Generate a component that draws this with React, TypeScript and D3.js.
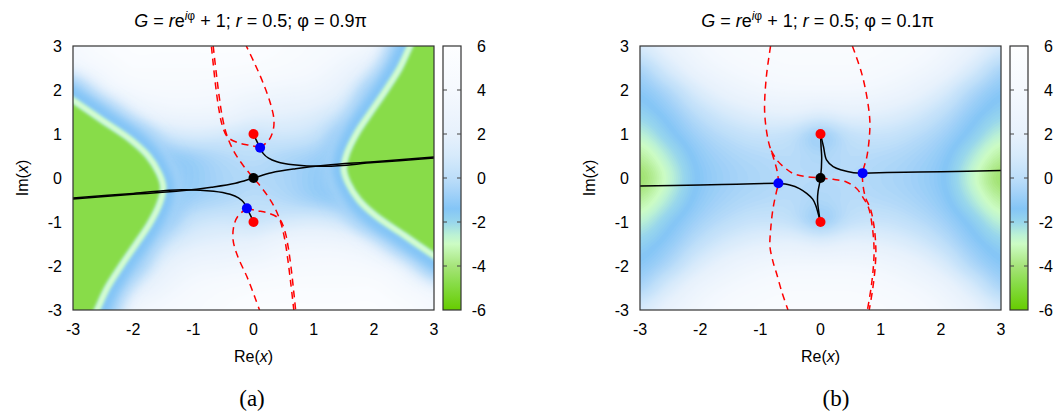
import React from 'react';
import * as d3 from 'd3';

type Pt = [number, number];

const W = 1058;
const H = 416;
const FONT = '"Liberation Sans", Arial, Helvetica, sans-serif';

// axes
const axisTicks = [-3, -2, -1, 0, 1, 2, 3];
const cbTicks = [-6, -4, -2, 0, 2, 4, 6];

// heatmap grid (rows from Im=3 down to Im=-3)
const gridX = [-3, -2.5, -2, -1.5, -1, -0.5, 0, 0.5, 1, 1.5, 2, 2.5, 3];
const gridY = [3, 2.5, 2, 1.5, 1, 0.5, 0, -0.5, -1, -1.5, -2, -2.5, -3];

// colour map of the colour box
const cmapValues = [-6, -4.8, -4, -3, -2.6, -2, -1.4, -0.6, 0, 1, 2, 4, 6];
const cmapColors = ['#66cc00', '#88dc48', '#a6e47a', '#ccfcc4', '#bcf2d4', '#98d6ec', '#84c5f6', '#a6d3f8', '#bddef9', '#d6eafb', '#e7f1fc', '#f5f9fe', '#fdfeff'];

// panel (a) background field, the green arms are drawn on top of it
const fieldA = [
  [4, 5, 5.5, 5.5, 5.5, 5.5, 5.5, 5, 4.5, 4, 3, -1.2, -1.4],
  [3, 4, 5, 5, 5, 5, 4.8, 4.5, 4, 3, 1.3, -1.4, -1.4],
  [-0.8, 2.5, 3.8, 4.2, 4.2, 4, 3.6, 3.3, 3, 1.8, -0.8, -1.4, -1.4],
  [-1.4, -0.6, 2, 3, 3.2, 3, 2.2, 2, 1.6, 0.5, -1.4, -1.4, -1.4],
  [-1.4, -1.4, -1.0, 0.6, 1.2, 1, 0.6, 0.8, 0.4, -1.0, -1.4, -1.4, -1.4],
  [-1.4, -1.4, -1.4, -1.2, -0.7, -0.2, 0, -0.3, -0.7, -1.4, -1.4, -1.4, -1.4],
  [-1.4, -1.4, -1.4, -1.4, -1.0, -0.5, -0.3, -0.5, -1.0, -1.4, -1.4, -1.4, -1.4],
  [-1.4, -1.4, -1.4, -1.4, -0.7, -0.3, 0, -0.2, -0.7, -1.2, -1.4, -1.4, -1.4],
  [-1.4, -1.4, -1.4, -1.0, 0.4, 0.8, 0.6, 1, 1.2, 0.6, -1.0, -1.4, -1.4],
  [-1.4, -1.4, -1.4, 0.5, 1.6, 2, 2.2, 3, 3.2, 3, 2, -0.6, -1.4],
  [-1.4, -1.4, -0.8, 1.8, 3, 3.3, 3.6, 4, 4.2, 4.2, 3.8, 2.5, -0.8],
  [-1.4, -1.4, 1.3, 3, 4, 4.5, 4.8, 5, 5, 5, 5, 4, 3],
  [-1.4, -1.2, 3, 4, 4.5, 5, 5.5, 5.5, 5.5, 5.5, 5.5, 5, 4],
];

// ridge lines (light green crest) of the two green arms in panel (a)
const ridgeLeftA: Pt[] = [[-3.3, 2.05], [-3, 1.77], [-2.5, 1.3], [-2.03, 0.86], [-1.75, 0.5], [-1.57, 0.11], [-1.5, -0.2], [-1.55, -0.55], [-1.72, -1.03], [-1.95, -1.5], [-2.2, -2.0], [-2.43, -2.5], [-2.6, -3], [-2.7, -3.3]];
const ridgeRightA: Pt[] = [[3.3, -2.05], [3, -1.77], [2.5, -1.3], [2.03, -0.86], [1.75, -0.5], [1.57, -0.11], [1.5, 0.2], [1.55, 0.55], [1.72, 1.03], [1.95, 1.5], [2.2, 2.0], [2.43, 2.5], [2.6, 3], [2.7, 3.3]];
const outerLeftA: Pt[] = [[-3.6, -3.6], [-3.6, 2.4]];
const outerRightA: Pt[] = [[3.6, 3.6], [3.6, -2.4]];

const fieldB = [
  [1.0, 2.4, 3.6, 4.3, 4.7, 5.0, 5.0, 5.0, 4.7, 4.3, 3.6, 2.4, 1.0],
  [-0.4, 1.2, 2.8, 3.7, 4.2, 4.5, 4.5, 4.5, 4.2, 3.7, 2.8, 1.2, -0.4],
  [-1.2, -0.2, 1.4, 2.6, 3.3, 3.6, 3.6, 3.6, 3.3, 2.6, 1.4, -0.2, -1.2],
  [-1.8, -1.0, 0.2, 1.2, 1.8, 2.0, 1.6, 2.0, 1.8, 1.2, 0.2, -1.0, -1.8],
  [-2.6, -1.6, -0.6, 0.1, 0.5, 0.3, -0.7, 0.3, 0.5, 0.1, -0.6, -1.6, -2.6],
  [-3.5, -2.3, -1.1, -0.5, -0.2, -0.1, -0.4, -0.1, -0.2, -0.5, -1.1, -2.3, -3.5],
  [-4.2, -2.7, -1.3, -0.7, -0.4, -0.2, -0.2, -0.2, -0.4, -0.7, -1.3, -2.7, -4.2],
  [-3.5, -2.3, -1.1, -0.5, -0.2, -0.1, -0.4, -0.1, -0.2, -0.5, -1.1, -2.3, -3.5],
  [-2.6, -1.6, -0.6, 0.1, 0.5, 0.3, -0.7, 0.3, 0.5, 0.1, -0.6, -1.6, -2.6],
  [-1.8, -1.0, 0.2, 1.2, 1.8, 2.0, 1.6, 2.0, 1.8, 1.2, 0.2, -1.0, -1.8],
  [-1.2, -0.2, 1.4, 2.6, 3.3, 3.6, 3.6, 3.6, 3.3, 2.6, 1.4, -0.2, -1.2],
  [-0.4, 1.2, 2.8, 3.7, 4.2, 4.5, 4.5, 4.5, 4.2, 3.7, 2.8, 1.2, -0.4],
  [1.0, 2.4, 3.6, 4.3, 4.7, 5.0, 5.0, 5.0, 4.7, 4.3, 3.6, 2.4, 1.0],
];

// panel (a): phi = 0.9 pi
const blackA: Pt[][] = [
  [[-3, -0.48], [-2, -0.37], [-1.2, -0.29], [-0.7, -0.21], [-0.3, -0.12], [0, 0], [0.3, 0.12], [0.7, 0.21], [1.2, 0.29], [2, 0.37], [3, 0.48]],
  [[0.11, 0.69], [0.16, 0.56], [0.25, 0.45], [0.39, 0.37], [0.66, 0.3], [1.2, 0.265], [2, 0.35], [3, 0.455]],
  [[-0.11, -0.69], [-0.16, -0.56], [-0.25, -0.45], [-0.39, -0.37], [-0.66, -0.3], [-1.2, -0.265], [-2, -0.35], [-3, -0.455]],
  [[0, 1], [0.05, 0.85], [0.11, 0.69]],
  [[0, -1], [-0.05, -0.85], [-0.11, -0.69]],
];
const dashedA: Pt[][] = [
  [[-0.67, 3], [-0.62, 2.4], [-0.57, 1.85], [-0.52, 1.4], [-0.45, 1.0], [-0.34, 0.64], [-0.18, 0.3], [0, 0], [0.18, -0.3], [0.34, -0.64], [0.45, -1.0], [0.52, -1.4], [0.57, -1.85], [0.62, -2.4], [0.67, -3]],
  [[0.11, 0.69], [-0.05, 0.74], [-0.25, 0.8], [-0.43, 0.93], [-0.52, 1.2], [-0.58, 1.6], [-0.63, 2.1], [-0.67, 2.6], [-0.7, 3]],
  [[0.11, 0.69], [0.25, 0.85], [0.32, 1.05], [0.34, 1.32], [0.28, 1.7], [0.16, 2.16], [0.02, 2.6], [-0.12, 3]],
  [[-0.11, -0.69], [0.05, -0.74], [0.25, -0.8], [0.43, -0.93], [0.52, -1.2], [0.58, -1.6], [0.63, -2.1], [0.67, -2.6], [0.7, -3]],
  [[-0.11, -0.69], [-0.25, -0.85], [-0.32, -1.05], [-0.34, -1.4], [-0.26, -1.79], [-0.11, -2.24], [0.02, -2.7], [0.1, -3]],
];
const redDotsA: Pt[] = [[0, 1], [0, -1]];
const blueDotsA: Pt[] = [[0.11, 0.69], [-0.11, -0.69]];
const blackDotsA: Pt[] = [[0, 0]];

// panel (b): phi = 0.1 pi
const blackB: Pt[][] = [
  [[-3, -0.18], [-2, -0.16], [-1.4, -0.14], [-0.7, -0.12]],
  [[0.7, 0.11], [1.4, 0.13], [2, 0.14], [3, 0.17]],
  [[-0.7, -0.12], [-0.51, -0.16], [-0.35, -0.24], [-0.23, -0.35], [-0.13, -0.48], [-0.08, -0.62], [-0.04, -0.8], [0, -1]],
  [[0.7, 0.11], [0.55, 0.12], [0.35, 0.18], [0.21, 0.26], [0.1, 0.41], [0.05, 0.71], [0, 1]],
  [[0, 1], [0.01, 0.7], [0.02, 0.45], [0, 0], [-0.04, -0.3], [-0.05, -0.5], [-0.02, -0.85], [0, -1]],
];
const dashedB: Pt[][] = [
  [[-0.82, 0.62], [-0.72, 0.4], [-0.6, 0.24], [-0.45, 0.1], [-0.23, 0.03], [0, 0], [0.21, -0.03], [0.43, -0.09], [0.6, -0.24], [0.71, -0.45], [0.8, -0.68], [0.86, -1.1], [0.89, -1.6], [0.88, -2.0], [0.84, -2.5], [0.78, -3]],
  [[-0.83, 3], [-0.9, 2.3], [-0.93, 1.6], [-0.91, 1.2], [-0.86, 0.8], [-0.78, 0.45], [-0.72, 0.15], [-0.7, -0.12], [-0.73, -0.3], [-0.79, -0.7], [-0.83, -1.2], [-0.84, -1.56], [-0.79, -1.9], [-0.73, -2.17], [-0.64, -2.6], [-0.54, -3]],
  [[0.53, 3], [0.68, 2.4], [0.77, 1.85], [0.82, 1.3], [0.81, 0.9], [0.77, 0.48], [0.7, 0.11], [0.71, -0.2], [0.75, -0.45], [0.83, -0.7], [0.89, -1.1], [0.92, -1.6], [0.91, -2.0], [0.87, -2.5], [0.81, -3]],
];
const redDotsB: Pt[] = [[0, 1], [0, -1]];
const blueDotsB: Pt[] = [[-0.7, -0.12], [0.7, 0.11]];
const blackDotsB: Pt[] = [[0, 0]];

const color = d3.scaleLinear<string>().domain(cmapValues).range(cmapColors).clamp(true);

// smooth display of the read grid (Catmull-Rom, like curveCatmullRom for lines)
function refine(field: number[][], k: number): number[][] {
  const ny = field.length;
  const nx = field[0].length;
  const get = (j: number, i: number) => field[Math.max(0, Math.min(ny - 1, j))][Math.max(0, Math.min(nx - 1, i))];
  const cr = (p0: number, p1: number, p2: number, p3: number, t: number) =>
    0.5 * (2 * p1 + (-p0 + p2) * t + (2 * p0 - 5 * p1 + 4 * p2 - p3) * t * t + (-p0 + 3 * p1 - 3 * p2 + p3) * t * t * t);
  const out: number[][] = [];
  for (let J = 0; J <= (ny - 1) * k; J++) {
    let j = Math.floor(J / k);
    let tj = (J % k) / k;
    if (j >= ny - 1) { j = ny - 2; tj = 1; }
    const row: number[] = [];
    for (let I = 0; I <= (nx - 1) * k; I++) {
      let i = Math.floor(I / k);
      let ti = (I % k) / k;
      if (i >= nx - 1) { i = nx - 2; ti = 1; }
      const r = [-1, 0, 1, 2].map((m) => cr(get(j + m, i - 1), get(j + m, i), get(j + m, i + 1), get(j + m, i + 2), ti));
      let v = cr(r[0], r[1], r[2], r[3], tj);
      const c = [get(j, i), get(j, i + 1), get(j + 1, i), get(j + 1, i + 1)];
      v = Math.max(Math.min(...c), Math.min(Math.max(...c), v));
      row.push(v);
    }
    out.push(row);
  }
  return out;
}

const PLOT_W = 361;
const TOP = 46;
const BOTTOM = 310;

function Panel(props: {
  id: string;
  left: number;
  field: number[][];
  arms: { ridge: Pt[]; outer: Pt[] }[];
  black: Pt[][];
  dashed: Pt[][];
  red: Pt[];
  blue: Pt[];
  dark: Pt[];
  phi: string;
  tag: string;
  tagX: number;
}) {
  const { id, left, field, arms, black, dashed, red, blue, dark, phi, tag, tagX } = props;
  const x0 = left;
  const x1 = left + PLOT_W;
  const x = d3.scaleLinear().domain([-3, 3]).range([x0, x1]);
  const y = d3.scaleLinear().domain([-3, 3]).range([BOTTOM, TOP]);

  // heatmap through d3.contours on the smoothed grid
  const fine = refine(field, 4);
  const ny = fine.length;
  const nx = fine[0].length;
  const gx = d3.scaleLinear().domain([0.5, nx - 0.5]).range([gridX[0], gridX[gridX.length - 1]]);
  const gy = d3.scaleLinear().domain([0.5, ny - 0.5]).range([gridY[0], gridY[gridY.length - 1]]);
  const proj = d3.geoTransform({
    point: function (px: number, py: number) {
      (this as any).stream.point(x(gx(px)), y(gy(py)));
    },
  });
  const path = d3.geoPath(proj);
  const thresholds = d3.range(-4.8, 6.001, 0.1);
  const bands = d3.contours().size([nx, ny]).thresholds(thresholds)(fine.flat());

  const line = d3
    .line<Pt>()
    .x((d) => x(d[0]))
    .y((d) => y(d[1]))
    .curve(d3.curveCatmullRom.alpha(0.5));

  // colour box
  const cb0 = x1 + 9;
  const cb1 = cb0 + 18;
  const cy = d3.scaleLinear().domain([-6, 6]).range([BOTTOM, TOP]);

  const cx = (x0 + x1) / 2;
  const region = { x: x0 - 30, y: TOP - 30, width: PLOT_W + 60, height: BOTTOM - TOP + 60 };

  return (
    <g>
      <defs>
        <clipPath id={`clip-${id}`}>
          <rect x={x0} y={TOP} width={PLOT_W} height={BOTTOM - TOP} />
        </clipPath>
        <linearGradient id={`grad-${id}`} x1="0" y1="1" x2="0" y2="0">
          {cmapValues.map((v, i) => (
            <stop key={i} offset={(v + 6) / 12} stopColor={cmapColors[i]} />
          ))}
        </linearGradient>
        <filter id={`wide-${id}`} filterUnits="userSpaceOnUse" {...region}>
          <feGaussianBlur stdDeviation={7} />
        </filter>
        <filter id={`glow-${id}`} filterUnits="userSpaceOnUse" {...region}>
          <feGaussianBlur stdDeviation={3} />
        </filter>
        <filter id={`soft-${id}`} filterUnits="userSpaceOnUse" {...region}>
          <feGaussianBlur stdDeviation={1.5} />
        </filter>
        <filter id={`edge-${id}`} filterUnits="userSpaceOnUse" {...region}>
          <feGaussianBlur stdDeviation={0.8} />
        </filter>
      </defs>

      {/* title */}
      <text x={cx - 3} y={27} textAnchor="middle" fontSize={18} fontFamily={FONT}>
        <tspan fontStyle="italic">G</tspan>
        {' = '}
        <tspan fontStyle="italic">r</tspan>
        {'e'}
        <tspan fontSize={12} dy={-7}>
          <tspan fontStyle="italic">i</tspan>
          {'φ'}
        </tspan>
        <tspan dy={7}>{' + 1; '}</tspan>
        <tspan fontStyle="italic">r</tspan>
        {' = 0.5; φ = ' + phi + 'π'}
      </text>

      {/* heatmap */}
      <g clipPath={`url(#clip-${id})`}>
        <rect x={x0} y={TOP} width={PLOT_W} height={BOTTOM - TOP} fill={color(-4.8)} />
        {bands.map((b, i) => (
          <path key={i} d={path(b as any) || ''} fill={color(b.value + 0.05)} />
        ))}
        {arms.map((a, i) => (
          <g key={'arm' + i}>
            <path d={line(a.ridge) || ''} fill="none" stroke={color(-0.6)} strokeWidth={40} filter={`url(#wide-${id})`} />
            <path d={line(a.ridge) || ''} fill="none" stroke={color(-1.4)} strokeWidth={24} filter={`url(#glow-${id})`} />
            <path
              d={(line(a.ridge) || '') + a.outer.map((p) => `L${x(p[0])},${y(p[1])}`).join('') + 'Z'}
              fill={color(-4.8)}
              filter={`url(#edge-${id})`}
            />
            <path d={line(a.ridge) || ''} fill="none" stroke={color(-2.6)} strokeWidth={7} filter={`url(#soft-${id})`} />
            <path d={line(a.ridge) || ''} fill="none" stroke="#d6fdd0" strokeWidth={3} filter={`url(#edge-${id})`} />
          </g>
        ))}
        {dashed.map((c, i) => (
          <path key={'d' + i} d={line(c) || ''} fill="none" stroke="#ff0000" strokeWidth={1.5} strokeDasharray="7,5" />
        ))}
        {black.map((c, i) => (
          <path key={'b' + i} d={line(c) || ''} fill="none" stroke="#000" strokeWidth={1.5} />
        ))}
        {red.map((p, i) => (
          <circle key={'r' + i} cx={x(p[0])} cy={y(p[1])} r={5} fill="#ff0000" />
        ))}
        {blue.map((p, i) => (
          <circle key={'u' + i} cx={x(p[0])} cy={y(p[1])} r={5} fill="#0000ff" />
        ))}
        {dark.map((p, i) => (
          <circle key={'k' + i} cx={x(p[0])} cy={y(p[1])} r={5} fill="#000" />
        ))}
      </g>
      <rect x={x0} y={TOP} width={PLOT_W} height={BOTTOM - TOP} fill="none" stroke="#333" strokeWidth={1.2} />

      {/* tick labels */}
      {axisTicks.map((t) => (
        <text key={'x' + t} x={x(t)} y={335} textAnchor="middle" fontSize={16} fontFamily={FONT}>
          {String(t)}
        </text>
      ))}
      {axisTicks.map((t) => (
        <text key={'y' + t} x={x0 - 11} y={y(t)} dy="0.35em" textAnchor="end" fontSize={16} fontFamily={FONT}>
          {String(t)}
        </text>
      ))}
      <text x={cx} y={362} textAnchor="middle" fontSize={16} fontFamily={FONT}>
        {'Re('}
        <tspan fontStyle="italic">x</tspan>
        {')'}
      </text>
      <text
        transform={`translate(${x0 - 51},${(TOP + BOTTOM) / 2}) rotate(-90)`}
        dy="0.35em"
        textAnchor="middle"
        fontSize={16}
        fontFamily={FONT}
      >
        {'Im('}
        <tspan fontStyle="italic">x</tspan>
        {')'}
      </text>

      {/* colour box */}
      <rect x={cb0} y={TOP} width={cb1 - cb0} height={BOTTOM - TOP} fill={`url(#grad-${id})`} stroke="#333" strokeWidth={1.2} />
      {cbTicks.map((t) => (
        <g key={'c' + t}>
          {t > -6 && t < 6 && (
            <>
              <line x1={cb0} x2={cb0 + 4} y1={cy(t)} y2={cy(t)} stroke="#444" strokeWidth={1} />
              <line x1={cb1 - 4} x2={cb1} y1={cy(t)} y2={cy(t)} stroke="#444" strokeWidth={1} />
            </>
          )}
          <text x={cb1 + 25} y={cy(t)} dy="0.35em" textAnchor="end" fontSize={16} fontFamily={FONT}>
            {String(t)}
          </text>
        </g>
      ))}

      {/* sub caption */}
      <text x={tagX} y={406} textAnchor="middle" fontSize={23} fontFamily='"Liberation Serif", "DejaVu Serif", serif'>
        {tag}
      </text>
    </g>
  );
}

export default function App() {
  const armsA = [
    { ridge: ridgeLeftA, outer: outerLeftA },
    { ridge: ridgeRightA, outer: outerRightA },
  ];
  return (
    <svg width={W} height={H} style={{ position: 'absolute', left: 0, top: 0, background: '#fff' }}>
      <Panel id="a" left={73} field={fieldA} arms={armsA} black={blackA} dashed={dashedA} red={redDotsA} blue={blueDotsA} dark={blackDotsA} phi="0.9" tag="(a)" tagX={252} />
      <Panel id="b" left={640} field={fieldB} arms={[]} black={blackB} dashed={dashedB} red={redDotsB} blue={blueDotsB} dark={blackDotsB} phi="0.1" tag="(b)" tagX={836} />
    </svg>
  );
}
